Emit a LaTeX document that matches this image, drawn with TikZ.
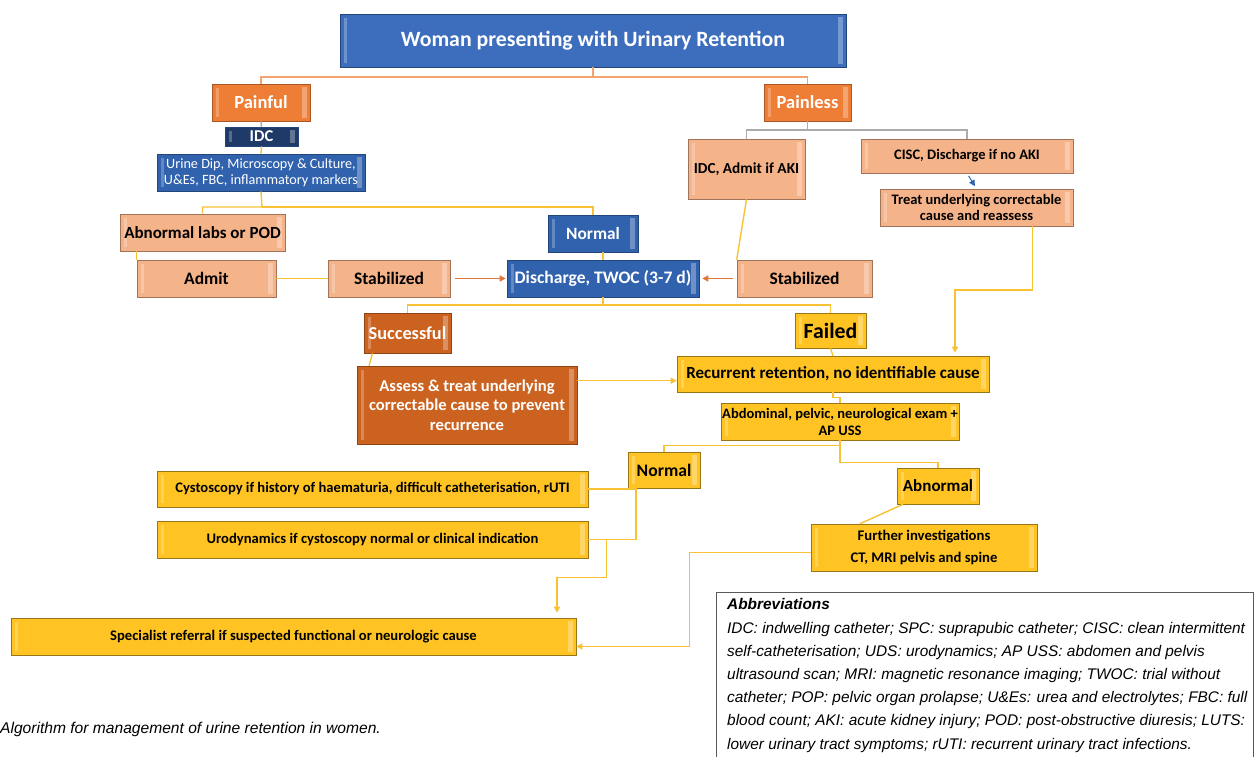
\documentclass[tikz,border=0pt]{standalone}
\usepackage{fontspec}
\setmainfont{Carlito}
\newfontfamily\notefont{Liberation Sans}
\usetikzlibrary{arrows.meta}

\definecolor{titleblue}{HTML}{3D6EBE}
\definecolor{midblue}{HTML}{3162AE}
\definecolor{navy}{HTML}{1F3A68}
\definecolor{brightorange}{HTML}{EE7D35}
\definecolor{salmon}{HTML}{F5B38A}
\definecolor{rust}{HTML}{CB621F}
\definecolor{gold}{HTML}{FFC423}
\definecolor{lineyellow}{HTML}{F9C234}
\definecolor{lineorange}{HTML}{F3A36F}
\definecolor{arroworange}{HTML}{E0773A}
\definecolor{linegray}{HTML}{ABABAB}

\begin{document}
\begin{tikzpicture}[x=1pt,y=-1pt,
    bevel/.style={path picture={
        \fill[white,opacity=.25] ([xshift=4pt,yshift=-4pt]path picture bounding box.north west)
            rectangle ([xshift=6.5pt,yshift=4pt]path picture bounding box.south west);
        \fill[white,opacity=.3] ([xshift=-8pt,yshift=-3pt]path picture bounding box.north east)
            rectangle ([xshift=-3pt,yshift=3pt]path picture bounding box.south east);}},
    box/.style={rectangle,inner sep=1pt,align=center,line width=.6pt,bevel},
    sz/.style 2 args={minimum width=#1pt,minimum height=#2pt},
    fb/.style 2 args={font=\fontsize{#1}{#2}\selectfont\bfseries},
    fr/.style 2 args={font=\fontsize{#1}{#2}\selectfont}]
\useasboundingbox (0,0) rectangle (1256,756);

%blue boxes (white text)
\begin{scope}[every node/.style={box,text=white,draw=midblue!70!black}]
    \node (title) at (593,40.5) [sz={506}{53},fill=titleblue,fb={21.8}{25}] {Woman presenting with Urinary Retention};
    \node (idc) at (261.5,136.5) [sz={73}{19},fill=navy,fb={16.5}{17}] {IDC};
    \node (dip) at (261,172.5) [sz={208}{37},fill=midblue,fr={14.2}{16.5}] {Urine Dip, Microscopy \& Culture,\\U\&Es, FBC, inflammatory markers};
    \node (normalB) at (593,233.5) [sz={90}{37},fill=midblue,fb={17.3}{20}] {Normal};
    \node (discharge) at (603,278.5) [sz={192}{37},fill=midblue,fb={17.6}{20}] {Discharge, TWOC (3-7 d)};
\end{scope}

%orange boxes
\begin{scope}[every node/.style={box,text=white,fill=brightorange,draw=brightorange!70!black,fb={18.5}{21}}]
    \node (painful) at (261,102.5) [sz={98}{37}] {Painful};
    \node (painless) at (807.5,102.5) [sz={87}{37}] {Painless};
\end{scope}

%light orange boxes
\begin{scope}[every node/.style={box,text=black,fill=salmon,draw=salmon!65!black,fb={17.5}{20}}]
    \node (abnlabs) at (202.5,232.5) [sz={165}{37},fb={17}{20}] {Abnormal labs or POD};
    \node (admit) at (206.5,278.5) [sz={139}{37}] {Admit};
    \node (stabL) at (389,278.5) [sz={122}{37}] {Stabilized};
    \node (stabR) at (804.5,278.5) [sz={135}{37}] {Stabilized};
    \node (idcaki) at (746.5,169) [sz={117}{60},fb={15.3}{18}] {IDC, Admit if AKI};
    \node (cisc) at (967,156) [sz={212}{34},fb={14.5}{17}] {CISC, Discharge if no AKI};
    \node (treat) at (976.5,207.5) [sz={193}{37},fb={14.5}{16}] {Treat underlying correctable\\cause and reassess};
\end{scope}

%dark orange boxes
\begin{scope}[every node/.style={box,text=white,fill=rust,draw=rust!70!black,fb={16.6}{19.5}}]
    \node (successful) at (407.5,333) [sz={87}{40},fb={18.3}{20}] {Successful};
    \node (assess) at (467,405) [sz={220}{78}] {Assess \& treat underlying\\correctable cause to prevent\\recurrence};
\end{scope}

%yellow boxes
\begin{scope}[every node/.style={box,text=black,fill=gold,draw=gold!60!black,fb={14.6}{16}}]
    \node (failed) at (830.5,330.5) [sz={71}{35},fb={21.8}{24}] {Failed};
    \node (recurrent) at (833,374) [sz={312}{36},fb={17}{20}] {Recurrent retention, no identifiable cause};
    \node (abdominal) at (840,421.5) [sz={238}{37},fb={14.5}{17}] {Abdominal, pelvic, neurological exam +\\AP USS};
    \node (normalY) at (664,470) [sz={72}{36},fb={17.6}{20}] {Normal};
    \node (abnormal) at (938,486) [sz={82}{36},fb={17}{20}] {Abnormal};
    \node (cysto) at (372.5,489) [sz={431}{36}] {Cystoscopy if history of haematuria, difficult catheterisation, rUTI};
    \node (uro) at (372.5,539.5) [sz={431}{37}] {Urodynamics if cystoscopy normal or clinical indication};
    \node (further) at (924,547.5) [sz={226}{47},fb={14.7}{22}] {Further investigations\\CT, MRI pelvis and spine};
    \node (specialist) at (293.5,636.5) [sz={565}{37}] {Specialist referral if suspected functional or neurologic cause};
\end{scope}

%split points
\coordinate (tsplit) at (593,77);
\coordinate (psplit) at (807.5,130);
\coordinate (dsplit) at (262,207);
\coordinate (wsplit) at (603,305);
\coordinate (tdrop) at (955,290);
\coordinate (ndrop) at ([xshift=-28pt]normalY.south);

%connectors
\draw[lineorange,line width=1.6pt] (title.south) -- (tsplit) -| (painful.north);
\draw[lineorange,line width=1.6pt] (tsplit) -| (painless.north);
\draw[linegray,line width=1.5pt] (painful.south) -- (idc.north);
\draw[linegray,line width=1.5pt] (painless.south) -- (psplit) -| (idcaki.north);
\draw[linegray,line width=1.5pt] (psplit) -| (cisc.north);

\begin{scope}[draw=lineyellow,line width=1.4pt]
    \draw (idc.south) -- (dip.north);
    \draw (dip.south) -- (dsplit) -| (abnlabs.north);
    \draw (dsplit) -| (normalB.north);
    \draw (admit.north west) -- (admit.north west |- abnlabs.south);
    \draw (admit.east) -- (stabL.west);
    \draw (discharge.north) -- (discharge.north |- normalB.south);
    \draw (idcaki.south) -- (stabR.north west);
    \draw (discharge.south) -- (wsplit) -| (successful.north);
    \draw (wsplit) -| (failed.north);
    \draw ([xshift=-35pt]successful.south) -- ([xshift=-98pt]assess.north);
    \draw (failed.south) -- (recurrent.north);
    \draw (recurrent.south) -- ++(0,5) -| (abdominal.north);
    \draw (abdominal.south) -- ++(0,5) -| (normalY.north);
    \draw (abdominal.south) -- ++(0,22) -| (abnormal.north);
    \draw (ndrop) |- (uro.east);
    \draw (cysto.east) -- (cysto.east -| ndrop);
    \draw ([xshift=-35pt]abnormal.south) -- ([xshift=-64pt]further.north);
\end{scope}

\begin{scope}[>={Triangle[length=6pt,width=6pt]},draw=lineyellow,line width=1.4pt]
    \draw[->,shorten >=3pt] ([xshift=56pt]treat.south) |- (tdrop) -- (tdrop |- recurrent.north);
    \draw[->] ([yshift=-15pt]assess.north east) -- ([yshift=-15pt]assess.north east -| recurrent.west);
    \draw[->,shorten >=5pt] ([xshift=18pt]uro.east) -- ++(0,38) -| ([xshift=263.5pt]specialist.north);
    \draw[->] ([yshift=-5pt]further.west) -- ++(-121,0) |- ([yshift=-10pt]specialist.east);
\end{scope}

\begin{scope}[>={Triangle[length=6pt,width=6pt]},line width=1.4pt]
    \draw[->,arroworange,shorten <=5pt,shorten >=1pt] (stabL.east) -- (discharge.west);
    \draw[->,arroworange,shorten <=4pt,shorten >=3pt] (stabR.west) -- (discharge.east);
    \draw[->,midblue,shorten <=3pt,shorten >=3pt,line width=1pt] (cisc.south) -- (treat.north);
\end{scope}

%abbreviations and caption
\draw[black!65,line width=1pt] (716,592) rectangle (1253,766);
\node (abbr) [anchor=north west,inner sep=0pt,align=left,
      font=\notefont\itshape\fontsize{15.4}{23.2}\selectfont] at (727,598.5)
    {{\bfseries Abbreviations}\\
     IDC: indwelling catheter; SPC: suprapubic catheter; CISC: clean intermittent\\
     self-catheterisation; UDS: urodynamics; AP USS: abdomen and pelvis\\
     ultrasound scan; MRI: magnetic resonance imaging; TWOC: trial without\\
     catheter; POP: pelvic organ prolapse; U\&Es: urea and electrolytes; FBC: full\\
     blood count; AKI: acute kidney injury; POD: post-obstructive diuresis; LUTS:\\
     lower urinary tract symptoms; rUTI: recurrent urinary tract infections.};
\node (caption) [anchor=base west,inner sep=0pt,font=\notefont\itshape\fontsize{15.6}{18}\selectfont]
    at (0,733) {Algorithm for management of urine retention in women.};
\end{tikzpicture}
\end{document}
